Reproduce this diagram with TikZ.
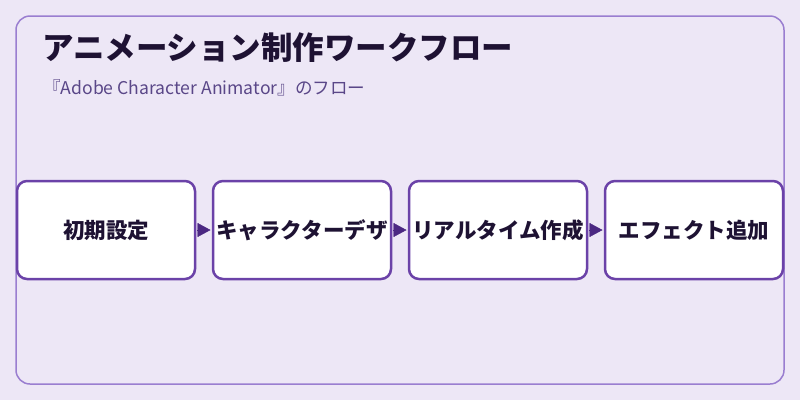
\documentclass[tikz,border=0pt]{standalone}
\usepackage{fontspec}
\newfontfamily\jpfont{Noto Sans CJK JP}
\usetikzlibrary{arrows.meta}

\definecolor{fundo}{HTML}{EDE7F6}
\definecolor{moldura}{HTML}{9A7ED0}
\definecolor{borda}{HTML}{6B42A8}
\definecolor{seta}{HTML}{4B2882}
\definecolor{texto}{HTML}{1E1233}
\definecolor{subtexto}{HTML}{5A4788}

\tikzset{
  etapa/.style={draw=borda, line width=2.5pt, fill=white, rounded corners=10pt,
    minimum width=178pt, minimum height=98pt, inner sep=0pt, outer sep=0pt,
    text=texto, font=\jpfont\bfseries\fontsize{21.5}{24}\selectfont},
  ligacao/.style={seta, line width=0.4pt,
    -{Triangle[length=13pt,width=14pt]}},
}

\begin{document}
\begin{tikzpicture}[x=1pt,y=-1pt]
% Fundo
\fill[fundo] (0,0) rectangle (800,400);
\useasboundingbox (0,0) rectangle (800,400);

% Moldura
\draw[moldura, line width=1.5pt, rounded corners=14pt] (16,16) rectangle (784,384);

% Titulo
\node[anchor=west, inner sep=0pt, text=texto,
  font=\jpfont\bfseries\fontsize{31.5}{34}\selectfont] (titulo) at (42,47.5)
  {アニメーション制作ワークフロー};
\node[anchor=west, inner sep=0pt, text=subtexto,
  font=\jpfont\fontsize{17.6}{20}\selectfont] (subtitulo) at (43,88)
  {『Adobe Character Animator』のフロー};

% Etapas
\node[etapa] (inicial) at (106,230) {初期設定};
\node[etapa] (design) at (302,230) {キャラクターデザ};
\node[etapa] (tempo) at (498,230) {リアルタイム作成};
\node[etapa] (efeito) at (694,230) {エフェクト追加};

% Setas
\draw[ligacao] ([xshift=2pt]inicial.east) -- ([xshift=-2.5pt]design.west);
\draw[ligacao] ([xshift=2pt]design.east) -- ([xshift=-2.5pt]tempo.west);
\draw[ligacao] ([xshift=2pt]tempo.east) -- ([xshift=-2.5pt]efeito.west);

\end{tikzpicture}
\end{document}
